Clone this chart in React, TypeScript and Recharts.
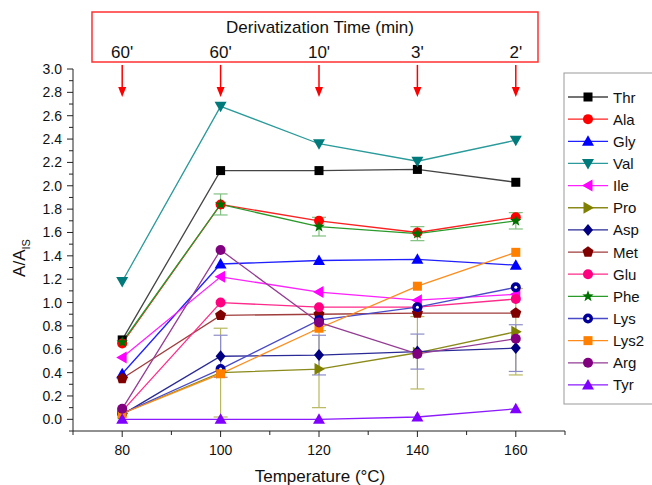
import React from 'react'
import { LineChart, Line, XAxis, YAxis, ReferenceLine, ErrorBar } from 'recharts'

// ─── Data ─────────────────────────────────────────────────────────────────────

const TEMPS = [80, 100, 120, 140, 160]
const TIME_LABELS = ["60'", "60'", "10'", "3'", "2'"]
const X_TICKS = [70, 80, 90, 100, 110, 120, 130, 140, 150, 160, 170]
const Y_TICKS = Array.from({ length: 32 }, (_, i) => (i - 1) / 10)

const THR = [0.68, 2.13, 2.13, 2.14, 2.03]
const ALA = [0.65, 1.84, 1.70, 1.60, 1.73]
const GLY = [0.39, 1.33, 1.36, 1.37, 1.32]
const VAL = [1.18, 2.68, 2.36, 2.21, 2.39]
const ILE = [0.53, 1.22, 1.09, 1.02, 1.07]
const PRO = [0.05, 0.40, 0.43, 0.57, 0.75]
const ASP = [0.04, 0.54, 0.55, 0.58, 0.61]
const MET = [0.35, 0.89, 0.90, 0.91, 0.91]
const GLU = [0.07, 1.00, 0.96, 0.96, 1.03]
const PHE = [0.66, 1.84, 1.65, 1.59, 1.70]
const LYS = [0.05, 0.43, 0.85, 0.96, 1.13]
const LYS2 = [0.05, 0.39, 0.78, 1.14, 1.43]
const ARG = [0.09, 1.45, 0.83, 0.56, 0.69]
const TYR = [0.0, 0.0, 0.0, 0.02, 0.09]

const PRO_ERR = [0, 0.38, 0.33, 0.31, 0.37]
const ASP_ERR = [0, 0.18, 0.17, 0.15, 0.2]
const PHE_ERR = [0, 0.09, 0.08, 0.06, 0.07]

type Shape =
  | 'square' | 'circle' | 'up' | 'down' | 'left' | 'right'
  | 'diamond' | 'pentagon' | 'star' | 'ring'

interface Series {
  key: string
  values: number[]
  color: string
  line: string
  shape: Shape
  err?: number[]
  errColor?: string
}

const SERIES: Series[] = [
  { key: 'Thr', values: THR, color: '#000000', line: '#444444', shape: 'square' },
  { key: 'Ala', values: ALA, color: '#ff0000', line: '#ff2020', shape: 'circle' },
  { key: 'Gly', values: GLY, color: '#0000ff', line: '#2020ff', shape: 'up' },
  { key: 'Val', values: VAL, color: '#007a7a', line: '#2a9a9a', shape: 'down' },
  { key: 'Ile', values: ILE, color: '#ff00ff', line: '#ff20ff', shape: 'left' },
  { key: 'Pro', values: PRO, color: '#808000', line: '#8a8a1a', shape: 'right', err: PRO_ERR, errColor: '#b8b860' },
  { key: 'Asp', values: ASP, color: '#000080', line: '#2a2a96', shape: 'diamond', err: ASP_ERR, errColor: '#8c8cc8' },
  { key: 'Met', values: MET, color: '#800000', line: '#a03c3c', shape: 'pentagon' },
  { key: 'Glu', values: GLU, color: '#ff0080', line: '#ff2a8a', shape: 'circle' },
  { key: 'Phe', values: PHE, color: '#007000', line: '#2a9a2a', shape: 'star', err: PHE_ERR, errColor: '#80c080' },
  { key: 'Lys', values: LYS, color: '#000099', line: '#4a4ac8', shape: 'ring' },
  { key: 'Lys2', values: LYS2, color: '#ff8000', line: '#ff8c1a', shape: 'square' },
  { key: 'Arg', values: ARG, color: '#800080', line: '#943c94', shape: 'circle' },
  { key: 'Tyr', values: TYR, color: '#8000ff', line: '#8c1aff', shape: 'up' },
]

const rows = TEMPS.map((t, i) => {
  const row: Record<string, number> = { temp: t }
  SERIES.forEach((s) => {
    row[s.key] = s.values[i]
    if (s.err) row[`${s.key}Err`] = s.err[i]
  })
  return row
})

const FONT = '"Liberation Sans", Arial, sans-serif'
const AXIS = '#222222'

// ─── Markers ──────────────────────────────────────────────────────────────────

function Marker({ cx, cy, shape, color }: { cx: number; cy: number; shape: Shape; color: string }) {
  if (cx == null || cy == null) return null
  const r = 5
  const poly = (pts: number[][]) => (
    <polygon points={pts.map((p) => `${cx + p[0]},${cy + p[1]}`).join(' ')} fill={color} />
  )
  switch (shape) {
    case 'square':
      return <rect x={cx - 4.5} y={cy - 4.5} width={9} height={9} fill={color} />
    case 'circle':
      return <circle cx={cx} cy={cy} r={r} fill={color} />
    case 'ring':
      return (
        <g>
          <circle cx={cx} cy={cy} r={r} fill={color} />
          <circle cx={cx} cy={cy} r={1.5} fill="#ffffff" />
        </g>
      )
    case 'up':
      return poly([[0, -6], [6, 4.5], [-6, 4.5]])
    case 'down':
      return poly([[0, 6], [6, -4.5], [-6, -4.5]])
    case 'left':
      return poly([[-6, 0], [4.5, -6], [4.5, 6]])
    case 'right':
      return poly([[6, 0], [-4.5, -6], [-4.5, 6]])
    case 'diamond':
      return poly([[0, -6], [5, 0], [0, 6], [-5, 0]])
    case 'pentagon': {
      const pts = [0, 1, 2, 3, 4].map((k) => {
        const a = -Math.PI / 2 + (k * 2 * Math.PI) / 5
        return [5.8 * Math.cos(a), 5.8 * Math.sin(a)]
      })
      return poly(pts)
    }
    case 'star': {
      const pts = Array.from({ length: 10 }, (_, k) => {
        const a = -Math.PI / 2 + (k * Math.PI) / 5
        const rr = k % 2 === 0 ? 6 : 2.5
        return [rr * Math.cos(a), rr * Math.sin(a)]
      })
      return poly(pts)
    }
  }
  return null
}

// ─── Ticks ────────────────────────────────────────────────────────────────────

function BottomTick({ x, y, payload }: any) {
  const v = payload.value
  const major = TEMPS.includes(v)
  return (
    <g>
      <line x1={x} x2={x} y1={y} y2={y + (major ? 6 : 4)} stroke={AXIS} />
      {major && (
        <text x={x} y={y + 24} textAnchor="middle" fontSize={14} fontFamily={FONT} fill="#111">
          {v}
        </text>
      )}
    </g>
  )
}

function LeftTick({ x, y, payload }: any) {
  const v = payload.value
  const tenth = Math.round(v * 10)
  const major = tenth >= 0 && tenth % 2 === 0
  return (
    <g>
      <line x1={x} x2={x - (major ? 6 : 4)} y1={y} y2={y} stroke={AXIS} />
      {major && (
        <text x={x - 11} y={y + 5} textAnchor="end" fontSize={14} fontFamily={FONT} fill="#111">
          {v.toFixed(1)}
        </text>
      )}
    </g>
  )
}

function TopTick({ x, y, payload }: any) {
  const i = TEMPS.indexOf(payload.value)
  return (
    <text x={x} y={y - 11} textAnchor="middle" fontSize={17} fontFamily={FONT} fill="#111">
      {TIME_LABELS[i]}
    </text>
  )
}

function Arrow({ x1, y1, x2, y2 }: any) {
  return (
    <g>
      <line x1={x1} y1={y1} x2={x2} y2={y2 - 8} stroke="#ff0000" strokeWidth={1.5} />
      <polygon points={`${x2 - 4},${y2 - 10} ${x2 + 4},${y2 - 10} ${x2},${y2}`} fill="#ff0000" />
    </g>
  )
}

// ─── Chart ────────────────────────────────────────────────────────────────────

export default function App() {
  return (
    <div style={{ position: 'absolute', left: 0, top: 0, width: 652, height: 485, background: '#fff' }}>
      <LineChart
        width={652}
        height={485}
        data={rows}
        margin={{ top: 49, right: 87, left: 0, bottom: 0 }}
      >
        <XAxis
          dataKey="temp"
          type="number"
          domain={[70, 170]}
          ticks={X_TICKS}
          interval={0}
          height={54}
          tickSize={0}
          tickMargin={0}
          tickLine={false}
          axisLine={{ stroke: AXIS }}
          tick={<BottomTick />}
          allowDataOverflow
        />
        <XAxis
          xAxisId="top"
          orientation="top"
          dataKey="temp"
          type="number"
          domain={[70, 170]}
          ticks={TEMPS}
          interval={0}
          height={20}
          tickSize={0}
          tickMargin={0}
          tickLine={false}
          axisLine={false}
          tick={<TopTick />}
        />
        <YAxis
          type="number"
          domain={[-0.1, 3.0]}
          ticks={Y_TICKS}
          interval={0}
          width={73}
          tickSize={0}
          tickMargin={0}
          tickLine={false}
          axisLine={{ stroke: AXIS }}
          tick={<LeftTick />}
          allowDataOverflow
        />
        {TEMPS.map((t) => (
          <ReferenceLine
            key={`arrow-${t}`}
            segment={[{ x: t, y: 3.035 }, { x: t, y: 2.76 }]}
            ifOverflow="visible"
            shape={(p: any) => <Arrow {...p} />}
          />
        ))}
        {SERIES.map((s) => (
          <Line
            key={s.key}
            dataKey={s.key}
            type="linear"
            stroke={s.line}
            strokeWidth={1.3}
            isAnimationActive={false}
            dot={(p: any) => (
              <Marker key={`${s.key}-${p.index}`} cx={p.cx} cy={p.cy} shape={s.shape} color={s.color} />
            )}
            activeDot={false}
          >
            {s.err && (
              <ErrorBar
                dataKey={`${s.key}Err`}
                width={7}
                stroke={s.errColor}
                strokeWidth={1.2}
                isAnimationActive={false}
              />
            )}
          </Line>
        ))}
      </LineChart>

      <svg
        width={652}
        height={485}
        style={{ position: 'absolute', left: 0, top: 0, pointerEvents: 'none' }}
        fontFamily={FONT}
      >
        {/* derivation time box */}
        <rect x={92} y={12} width={446} height={50} fill="none" stroke="#ff3030" strokeWidth={1.5} />
        <text x={320} y={33} textAnchor="middle" fontSize={17} fill="#111">
          Derivatization Time (min)
        </text>

        {/* axis titles */}
        <text x={320} y={482} textAnchor="middle" fontSize={17} fill="#111">
          Temperature (°C)
        </text>
        <text transform="translate(25 258) rotate(-90)" textAnchor="middle" fontSize={17} fill="#111">
          A/A
          <tspan fontSize={11} dy={5}>IS</tspan>
        </text>

        {/* legend */}
        <rect x={564} y={73} width={100} height={331} fill="#fff" stroke="#999" strokeWidth={1} />
        {SERIES.map((s, i) => {
          const y = 97 + i * 22.15
          return (
            <g key={`lg-${s.key}`}>
              <line x1={568} x2={608} y1={y} y2={y} stroke={s.line} strokeWidth={1.3} />
              <Marker cx={588} cy={y} shape={s.shape} color={s.color} />
              <text x={613} y={y + 5.5} fontSize={15} fill="#111">
                {s.key}
              </text>
            </g>
          )
        })}
      </svg>
    </div>
  )
}
